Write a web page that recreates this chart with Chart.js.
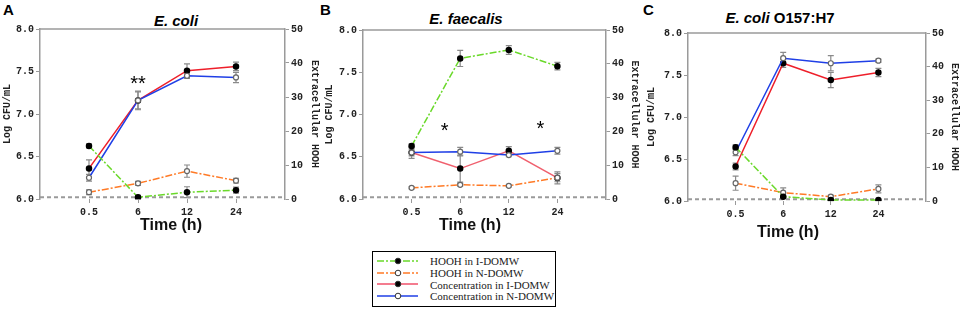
<!DOCTYPE html>
<html>
<head>
<meta charset="utf-8">
<script src="https://cdn.jsdelivr.net/npm/chart.js@4/dist/chart.umd.min.js"></script>
<style>
  body { margin: 0; background: #fff; width: 964px; height: 311px; position: relative; overflow: hidden; font-family: "Liberation Sans", Arial, sans-serif; }
  .panel { position: absolute; top: 0; height: 240px; }
  .letter { position: absolute; top: 1px; font: bold 15px "Liberation Sans", Arial, sans-serif; }
  .title { position: absolute; line-height: 15px; transform: translateX(-50%); white-space: nowrap; font: bold 15px "Liberation Sans", Arial, sans-serif; }
  .xtitle { position: absolute; line-height: 16px; transform: translateX(-50%); white-space: nowrap; font: bold 16px "Liberation Sans", Arial, sans-serif; color: #111; }
  #legend { position: absolute; left: 372px; top: 251px; width: 184px; height: 56px; border: 1px solid #000; box-sizing: border-box; padding: 3px 0 0 4px; }
  #legend .row { height: 11.8px; display: flex; align-items: center; font: 11px "Liberation Serif", "Times New Roman", serif; color: #222; }
  #legend svg { margin-right: 12px; }
</style>
</head>
<body>

<div class="letter" style="left:3px">A</div>
<div class="letter" style="left:320px">B</div>
<div class="letter" style="left:643px">C</div>

<div class="title" style="left:176px;top:12px"><i>E. coli</i></div>
<div class="title" style="left:466px;top:10px"><i>E. faecalis</i></div>
<div class="title" style="left:780px;top:9px"><i>E. coli</i> O157:H7</div>

<div class="panel" style="left:0;width:322px"><canvas id="chartA" width="322" height="240"></canvas></div>
<div class="panel" style="left:322px;width:322px"><canvas id="chartB" width="322" height="240"></canvas></div>
<div class="panel" style="left:644px;width:320px"><canvas id="chartC" width="320" height="240"></canvas></div>

<div class="xtitle" style="left:171px;top:216px">Time (h)</div>
<div class="xtitle" style="left:470px;top:216px">Time (h)</div>
<div class="xtitle" style="left:788px;top:223px">Time (h)</div>

<div id="legend"></div>

<script>
// sampling times
const timeLabels = ['0.5', '6', '12', '24'];
const detectionLimit = 6.02;

const seriesNames = ['HOOH in I-DOMW', 'HOOH in N-DOMW', 'Concentration in I-DOMW', 'Concentration in N-DOMW'];

// A: E. coli
const ecoliConcI = [6.36, 7.16, 7.51, 7.56];
const ecoliConcIErr = [0.10, 0.11, 0.08, 0.05];
const ecoliConcN = [6.25, 7.16, 7.45, 7.43];
const ecoliConcNErr = [0.04, 0.10, 0.03, 0.06];
const ecoliHoohI = [15.6, 0.5, 2.0, 2.6];
const ecoliHoohIErr = [0.6, 0.6, 1.6, 0.9];
const ecoliHoohN = [2.0, 4.6, 8.2, 5.4];
const ecoliHoohNErr = [0.7, 0.6, 1.8, 0.7];

// B: E. faecalis
const faecalisConcI = [6.55, 6.36, 6.57, 6.25];
const faecalisConcIErr = [0.07, 0.16, 0.05, 0.07];
const faecalisConcN = [6.55, 6.56, 6.52, 6.57];
const faecalisConcNErr = [0.04, 0.05, 0.02, 0.04];
const faecalisHoohI = [15.7, 41.6, 44.1, 39.3];
const faecalisHoohIErr = [0.6, 2.4, 1.3, 1.1];
const faecalisHoohN = [3.3, 4.2, 3.9, 6.3];
const faecalisHoohNErr = [0.3, 0.4, 0.3, 1.2];

// C: E. coli O157:H7
const o157ConcI = [6.41, 7.64, 7.44, 7.53];
const o157ConcIErr = [0.04, 0.05, 0.09, 0.05];
const o157ConcN = [6.58, 7.70, 7.64, 7.67];
const o157ConcNErr = [0.04, 0.07, 0.09, 0.02];
const o157HoohI = [16.0, 1.3, 0.3, 0.3];
const o157HoohIErr = [0.7, 0.4, 0.2, 0.2];
const o157HoohN = [5.3, 2.5, 1.3, 3.6];
const o157HoohNErr = [2.1, 1.4, 0.4, 1.2];

// significance marks (x in time index units, y on the log axis)
const ecoliMarks = [{ x: 2, y: 7.41, text: '**' }];
const faecalisMarks = [{ x: 1.68, y: 6.86, text: '*' }, { x: 3.65, y: 6.88, text: '*' }];
const o157Marks = [];

const GREEN = '#6ad92a';
const ORANGE = '#ff7a26';
const BLUE = '#1f3fe6';
const AXIS_GREY = '#9a9a9a';
const monoFont = { family: 'Liberation Mono', size: 10, weight: 'bold' };

function toPoints(values) {
    return values.map((v, i) => ({ x: i + 1, y: v }));
}

const errorBarPlugin = {
    id: 'errorBars',
    beforeDatasetsDraw(chart) {
        const ctx = chart.ctx;
        chart.data.datasets.forEach((ds, i) => {
            if (!ds.errors) return;
            const meta = chart.getDatasetMeta(i);
            const yScale = chart.scales[ds.yAxisID];
            ctx.save();
            ctx.strokeStyle = '#8a8a8a';
            ctx.lineWidth = 1.2;
            meta.data.forEach((pt, j) => {
                const v = ds.data[j].y;
                const e = ds.errors[j];
                const top = yScale.getPixelForValue(v + e);
                const bot = yScale.getPixelForValue(v - e);
                ctx.beginPath();
                ctx.moveTo(pt.x, top); ctx.lineTo(pt.x, bot);
                ctx.moveTo(pt.x - 3, top); ctx.lineTo(pt.x + 3, top);
                ctx.moveTo(pt.x - 3, bot); ctx.lineTo(pt.x + 3, bot);
                ctx.stroke();
            });
            ctx.restore();
        });
    }
};

// top edge of the plot frame + asterisks
const framePlugin = {
    id: 'frameAndMarks',
    afterDraw(chart, args, opts) {
        const { ctx, chartArea } = chart;
        ctx.save();
        ctx.strokeStyle = AXIS_GREY;
        ctx.lineWidth = 1.5;
        ctx.beginPath();
        ctx.moveTo(chartArea.left, chartArea.top);
        ctx.lineTo(chartArea.right, chartArea.top);
        ctx.stroke();

        ctx.fillStyle = '#000';
        ctx.font = '20px "Liberation Sans", Arial, sans-serif';
        ctx.textAlign = 'center';
        ctx.textBaseline = 'middle';
        (opts.marks || []).forEach(m => {
            const px = chart.scales.x.getPixelForValue(m.x);
            const py = chart.scales.y.getPixelForValue(m.y);
            ctx.fillText(m.text, px, py + 5);
        });
        ctx.restore();
    }
};

function makePanel(canvasId, series, marks, geom) {
    const datasets = [
        {
            label: seriesNames[0], data: toPoints(series.hoohI), errors: series.hoohIErr, yAxisID: 'y1',
            borderColor: GREEN, borderWidth: 1.5, borderDash: [7, 2, 2, 2],
            pointRadius: 2.5, pointBackgroundColor: '#000', pointBorderColor: '#000'
        },
        {
            label: seriesNames[1], data: toPoints(series.hoohN), errors: series.hoohNErr, yAxisID: 'y1',
            borderColor: ORANGE, borderWidth: 1.5, borderDash: [7, 2, 2, 2],
            pointRadius: 2.5, pointBackgroundColor: '#fff', pointBorderColor: '#666', pointBorderWidth: 1.2
        },
        {
            label: seriesNames[3], data: toPoints(series.concN), errors: series.concNErr, yAxisID: 'y',
            borderColor: BLUE, borderWidth: 1.5,
            pointRadius: 2.5, pointBackgroundColor: '#fff', pointBorderColor: '#666', pointBorderWidth: 1.2
        },
        {
            label: seriesNames[2], data: toPoints(series.concI), errors: series.concIErr, yAxisID: 'y',
            borderColor: series.red, borderWidth: 1.5,
            pointRadius: 2.5, pointBackgroundColor: '#000', pointBorderColor: '#000'
        },
        {
            label: 'limit', data: [{ x: 0, y: detectionLimit }, { x: timeLabels.length + 1, y: detectionLimit }],
            yAxisID: 'y', borderColor: AXIS_GREY, borderWidth: 2, borderDash: [4, 3], pointRadius: 0
        }
    ];

    return new Chart(canvasId, {
        type: 'line',
        data: { datasets: datasets },
        options: {
            responsive: false,
            animation: false,
            layout: { padding: { top: geom.top, left: 0, right: 0, bottom: 0 } },
            plugins: {
                legend: { display: false },
                tooltip: { enabled: false },
                frameAndMarks: { marks: marks }
            },
            scales: {
                x: {
                    type: 'linear', min: 0, max: timeLabels.length + 1,
                    afterBuildTicks: s => { s.ticks = timeLabels.map((_, i) => ({ value: i + 1 })); },
                    afterFit: s => { s.height = 240 - geom.bottom; },
                    ticks: {
                        autoSkip: false, maxRotation: 0, padding: 3, color: '#222', font: monoFont,
                        callback: v => timeLabels[v - 1]
                    },
                    grid: { drawOnChartArea: false, tickLength: 4, color: AXIS_GREY },
                    border: { display: false }
                },
                y: {
                    position: 'left', min: 6, max: 8,
                    afterFit: s => { s.width = geom.left; },
                    ticks: { stepSize: 0.5, padding: 2, color: '#222', font: monoFont, callback: v => v.toFixed(1) },
                    grid: { drawOnChartArea: false, tickLength: 4, color: AXIS_GREY },
                    border: { color: AXIS_GREY, width: 1.5 },
                    title: { display: true, text: 'Log CFU/mL', color: '#222', font: monoFont, padding: { top: 1, bottom: 0 } }
                },
                y1: {
                    position: 'right', min: 0, max: 50,
                    afterFit: s => { s.width = geom.right; },
                    ticks: { stepSize: 10, padding: 2, color: '#222', font: monoFont },
                    grid: { drawOnChartArea: false, tickLength: 4, color: AXIS_GREY },
                    border: { color: AXIS_GREY, width: 1.5 },
                    title: { display: true, text: 'Extracellular HOOH', color: '#222', font: monoFont, padding: { top: geom.rTitlePad, bottom: 0 } }
                }
            }
        },
        plugins: [errorBarPlugin, framePlugin]
    });
}

makePanel('chartA', {
    concI: ecoliConcI, concIErr: ecoliConcIErr, concN: ecoliConcN, concNErr: ecoliConcNErr,
    hoohI: ecoliHoohI, hoohIErr: ecoliHoohIErr, hoohN: ecoliHoohN, hoohNErr: ecoliHoohNErr, red: '#ee1f2a'
}, ecoliMarks, { top: 29, bottom: 199, left: 40, right: 37, rTitlePad: 1 });

makePanel('chartB', {
    concI: faecalisConcI, concIErr: faecalisConcIErr, concN: faecalisConcN, concNErr: faecalisConcNErr,
    hoohI: faecalisHoohI, hoohIErr: faecalisHoohIErr, hoohN: faecalisHoohN, hoohNErr: faecalisHoohNErr, red: '#f0606e'
}, faecalisMarks, { top: 30, bottom: 199, left: 41, right: 38, rTitlePad: 3 });

makePanel('chartC', {
    concI: o157ConcI, concIErr: o157ConcIErr, concN: o157ConcN, concNErr: o157ConcNErr,
    hoohI: o157HoohI, hoohIErr: o157HoohIErr, hoohN: o157HoohN, hoohNErr: o157HoohNErr, red: '#ee1f2a'
}, o157Marks, { top: 33, bottom: 201, left: 44, right: 38, rTitlePad: 3 });

// legend
const legendStyles = [
    { color: GREEN, dash: '7,2,2,2', fill: '#000' },
    { color: ORANGE, dash: '7,2,2,2', fill: '#fff' },
    { color: '#f0506a', dash: '', fill: '#000' },
    { color: BLUE, dash: '', fill: '#fff' }
];
const legendEl = document.getElementById('legend');
seriesNames.forEach((name, i) => {
    const st = legendStyles[i];
    const row = document.createElement('div');
    row.className = 'row';
    row.innerHTML =
        '<svg width="41" height="10"><line x1="0" y1="5" x2="41" y2="5" stroke="' + st.color + '" stroke-width="1.5"' +
        (st.dash ? ' stroke-dasharray="' + st.dash + '"' : '') + '/>' +
        '<circle cx="21" cy="5" r="2.8" fill="' + st.fill + '" stroke="#333" stroke-width="1"/></svg>' +
        '<span>' + name + '</span>';
    legendEl.appendChild(row);
});
</script>
</body>
</html>
